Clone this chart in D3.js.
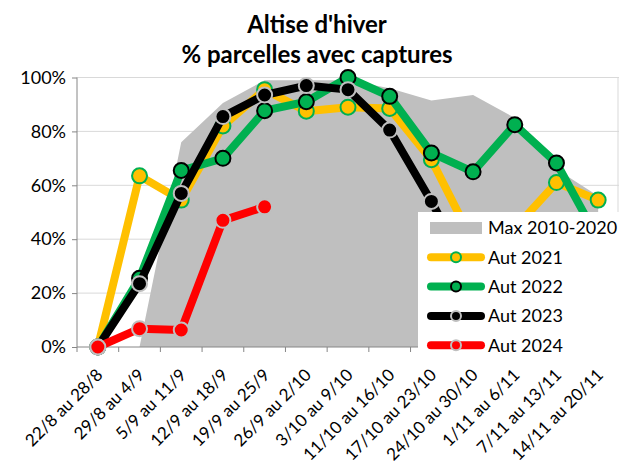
<!DOCTYPE html>
<html lang="fr">
<head>
    <meta charset="UTF-8">
    <title>Altise d'hiver</title>
    <style>
        body { margin: 0; background: #ffffff; }
        text { font-family: Lato, "Open Sans", sans-serif; fill: #000000; }
        .grid line { stroke: #D9D9D9; stroke-width: 1; }
        .axis line, .axis path { stroke: #868686; }
    </style>
</head>
<body>
<svg id="svg" width="624" height="468"></svg>
<script src="https://cdnjs.cloudflare.com/ajax/libs/d3/7.8.5/d3.min.js"></script>
<script>
    // weeks on the x axis
    var categories = ["22/8 au 28/8", "29/8 au 4/9", "5/9 au 11/9", "12/9 au 18/9", "19/9 au 25/9",
        "26/9 au 2/10", "3/10 au 9/10", "11/10 au 16/10", "17/10 au 23/10", "24/10 au 30/10",
        "1/11 au 6/11", "7/11 au 13/11", "14/11 au 20/11"];

    var yTicks = [0, 0.2, 0.4, 0.6, 0.8, 1.0];

    // share of plots with captures
    var max2010_2020 = [0, 0, 0.76, 0.905, 0.99, 0.99, 0.99, 0.96, 0.915, 0.935, 0.85, 0.66, 0.56];
    var aut2021 = [0, 0.635, 0.545, 0.82, 0.955, 0.875, 0.89, 0.885, 0.695, 0.39, 0.44, 0.61, 0.545];
    var aut2022 = [0, 0.255, 0.655, 0.70, 0.877, 0.91, 1.0, 0.93, 0.72, 0.65, 0.825, 0.683, 0.40];
    var aut2023 = [0, 0.235, 0.57, 0.855, 0.935, 0.97, 0.955, 0.805, 0.54, 0.25];
    var aut2024 = [0, 0.068, 0.063, 0.47, 0.52];

    var series = [
        {name: "Aut 2021", values: aut2021, line: "#FFC000", fill: "#FFC000", ring: "#00B050"},
        {name: "Aut 2022", values: aut2022, line: "#00B050", fill: "#00B050", ring: "#000000"},
        {name: "Aut 2023", values: aut2023, line: "#000000", fill: "#000000", ring: "#BFBFBF"},
        {name: "Aut 2024", values: aut2024, line: "#FF0000", fill: "#FF0000", ring: "#BFBFBF"}
    ];

    var svg = d3.select("#svg");

    // plot area (window.top is taken, so no "top" here)
    var plotLeft = 77, plotRight = 619, plotTop = 77.5, plotBottom = 347;

    var x = d3.scaleBand().domain(categories).range([plotLeft, plotRight]).padding(0);
    var y = d3.scaleLinear().domain([0, 1]).range([plotBottom, plotTop]);

    function cx(i) { return x(categories[i]) + x.bandwidth() / 2; }

    // title
    var title = svg.append("text")
        .attr("text-anchor", "middle")
        .style("font-weight", "bold")
        .style("font-size", "24px");
    title.append("tspan").attr("x", 317).attr("y", 33).text("Altise d'hiver");
    title.append("tspan").attr("x", 317).attr("y", 63).text("% parcelles avec captures");

    // gridlines + right border
    var grid = svg.append("g").attr("class", "grid");
    grid.selectAll("line.h")
        .data(yTicks.slice(1))
        .enter().append("line")
        .attr("class", "h")
        .attr("x1", plotLeft).attr("x2", plotRight)
        .attr("y1", function(d) { return y(d); })
        .attr("y2", function(d) { return y(d); });
    grid.append("line")
        .attr("x1", plotRight - 1).attr("x2", plotRight - 1)
        .attr("y1", plotTop).attr("y2", plotBottom);

    // Max 2010-2020 area
    var area = d3.area()
        .x(function(d, i) { return cx(i); })
        .y0(y(0))
        .y1(function(d) { return y(d); });

    svg.append("path")
        .datum(max2010_2020)
        .attr("d", area)
        .attr("fill", "#BFBFBF");

    // axes
    var yAxis = d3.axisLeft(y)
        .tickValues(yTicks)
        .tickSize(5)
        .tickPadding(6)
        .tickFormat(d3.format(".0%"));

    var gy = svg.append("g")
        .attr("class", "axis")
        .attr("transform", "translate(" + plotLeft + ",0)")
        .call(yAxis);
    gy.select(".domain").attr("d", "M0," + plotTop + "V" + plotBottom);
    gy.selectAll("text").style("font-size", "18px").attr("fill", "#000");

    var boundaries = d3.range(categories.length + 1).map(function(i) {
        return plotLeft + i * x.bandwidth();
    });

    var gx = svg.append("g").attr("class", "axis");
    gx.append("line")
        .attr("x1", plotLeft).attr("x2", plotRight)
        .attr("y1", plotBottom).attr("y2", plotBottom);
    gx.selectAll("line.tick")
        .data(boundaries)
        .enter().append("line")
        .attr("class", "tick")
        .attr("x1", function(d) { return d; })
        .attr("x2", function(d) { return d; })
        .attr("y1", plotBottom).attr("y2", plotBottom + 5);

    gx.selectAll("text")
        .data(categories)
        .enter().append("text")
        .attr("text-anchor", "end")
        .style("font-size", "17px")
        .attr("transform", function(d, i) {
            return "translate(" + (cx(i) + 6) + "," + (plotBottom + 29) + ") rotate(-45)";
        })
        .text(function(d) { return d; });

    // series lines and markers
    var line = d3.line()
        .x(function(d, i) { return cx(i); })
        .y(function(d) { return y(d); });

    series.forEach(function(s) {
        var g = svg.append("g");
        g.append("path")
            .datum(s.values)
            .attr("d", line)
            .attr("fill", "none")
            .attr("stroke", s.line)
            .attr("stroke-width", 8)
            .attr("stroke-linejoin", "round")
            .attr("stroke-linecap", "round");
        g.selectAll("circle")
            .data(s.values)
            .enter().append("circle")
            .attr("cx", function(d, i) { return cx(i); })
            .attr("cy", function(d) { return y(d); })
            .attr("r", 7.5)
            .attr("fill", s.fill)
            .attr("stroke", s.ring)
            .attr("stroke-width", 2);
    });

    // legend
    var legend = svg.append("g");
    legend.append("rect")
        .attr("x", 418).attr("y", 212)
        .attr("width", 206).attr("height", 148)
        .attr("fill", "#ffffff");

    var rowY = 228, rowStep = 29.3;

    legend.append("rect")
        .attr("x", 430).attr("y", rowY - 6)
        .attr("width", 52).attr("height", 12)
        .attr("fill", "#BFBFBF");
    legend.append("text")
        .attr("x", 488).attr("y", rowY)
        .attr("dy", "0.35em")
        .style("font-size", "18px")
        .text("Max 2010-2020");

    series.forEach(function(s, i) {
        var ly = rowY + (i + 1) * rowStep;
        legend.append("line")
            .attr("x1", 431).attr("x2", 481)
            .attr("y1", ly).attr("y2", ly)
            .attr("stroke", s.line)
            .attr("stroke-width", 8)
            .attr("stroke-linecap", "round");
        legend.append("circle")
            .attr("cx", 456).attr("cy", ly)
            .attr("r", 5)
            .attr("fill", s.fill)
            .attr("stroke", s.ring)
            .attr("stroke-width", 2);
        legend.append("text")
            .attr("x", 488).attr("y", ly)
            .attr("dy", "0.35em")
            .style("font-size", "18px")
            .text(s.name);
    });
</script>
</body>
</html>
